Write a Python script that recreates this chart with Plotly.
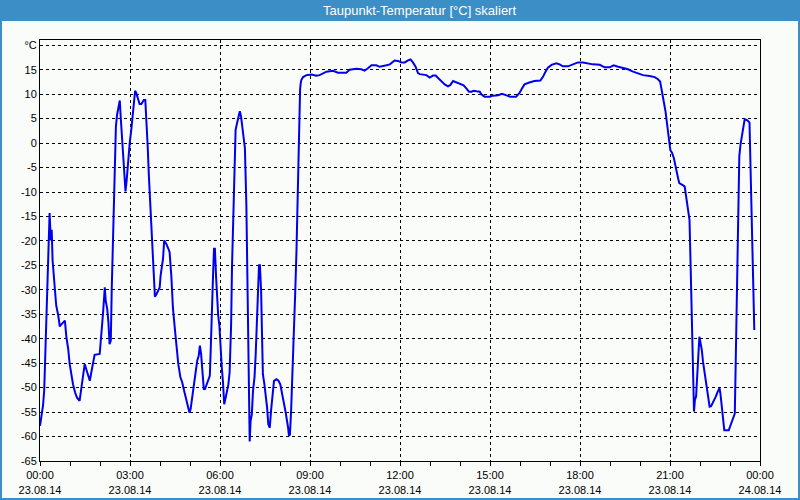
import plotly.graph_objects as go

# time in hours since 23.08.14 00:00
hours = [0.00,0.06,0.10,0.14,0.18,0.21,0.24,0.28,0.32,0.36,0.39,0.42,0.46,0.50,0.54,0.61,0.66,0.69,0.77,0.83,
0.88,0.94,0.99,1.04,1.10,1.17,1.23,1.32,1.38,1.43,1.49,1.54,1.60,1.66,1.71,1.77,1.82,1.99,2.04,2.10,
2.16,2.19,2.24,2.28,2.32,2.36,2.39,2.42,2.45,2.48,2.50,2.53,2.57,2.62,2.66,2.69,2.72,2.77,2.81,2.85,
2.89,2.93,2.99,3.05,3.10,3.13,3.17,3.21,3.27,3.32,3.38,3.46,3.51,3.55,3.59,3.63,3.68,3.72,3.77,3.80,
3.83,3.88,3.93,3.99,4.02,4.06,4.10,4.14,4.21,4.28,4.32,4.38,4.43,4.50,4.54,4.61,4.68,4.74,4.79,4.86,
4.91,4.98,5.02,5.07,5.12,5.17,5.21,5.24,5.29,5.33,5.37,5.41,5.46,5.50,5.54,5.60,5.66,5.69,5.73,5.77,
5.80,5.83,5.87,5.90,5.94,5.98,6.01,6.06,6.10,6.14,6.19,6.23,6.28,6.32,6.37,6.40,6.43,6.47,6.49,6.52,
6.57,6.61,6.66,6.70,6.75,6.79,6.83,6.88,6.91,6.95,6.97,6.99,7.02,7.06,7.10,7.15,7.19,7.23,7.27,7.30,
7.33,7.37,7.40,7.43,7.48,7.52,7.57,7.61,7.66,7.70,7.75,7.80,7.88,7.95,8.01,8.06,8.10,8.15,8.19,8.23,
8.27,8.30,8.33,8.37,8.41,8.45,8.48,8.51,8.55,8.58,8.61,8.63,8.67,8.69,8.71,8.77,8.88,9.05,9.21,9.32,
9.43,9.55,9.77,9.93,10.10,10.21,10.32,10.55,10.71,10.82,10.93,11.05,11.21,11.32,11.55,11.66,11.82,11.93,12.05,12.16,
12.27,12.35,12.43,12.52,12.60,12.66,12.88,12.99,13.10,13.19,13.27,13.38,13.49,13.60,13.68,13.77,13.88,13.99,14.12,14.21,
14.30,14.38,14.46,14.55,14.66,14.71,14.82,14.99,15.10,15.27,15.40,15.53,15.67,15.87,15.98,16.07,16.15,16.31,16.48,16.68,
16.77,16.85,16.93,17.05,17.21,17.32,17.43,17.60,17.77,17.93,18.10,18.27,18.43,18.66,18.82,18.99,19.12,19.27,19.43,19.60,
19.77,19.93,20.10,20.32,20.49,20.59,20.67,20.71,20.76,20.80,20.85,20.89,20.93,20.97,21.01,21.07,21.13,21.18,21.22,21.27,
21.31,21.38,21.45,21.49,21.53,21.58,21.61,21.65,21.68,21.71,21.73,21.77,21.80,21.83,21.87,21.90,21.93,21.96,21.98,22.01,
22.06,22.10,22.15,22.19,22.23,22.28,22.32,22.37,22.42,22.49,22.53,22.59,22.65,22.68,22.72,22.77,22.81,22.87,22.96,23.00,
23.06,23.11,23.16,23.19,23.22,23.26,23.28,23.31,23.35,23.38,23.42,23.46,23.49,23.53,23.59,23.65,23.68,23.72,23.76,23.79,
23.81]

dewpoint = [-57.8,-55.0,-53.7,-50.6,-43.5,-36.0,-28.8,-21.6,-14.3,-19.9,-17.7,-24.0,-27.8,-31.5,-33.2,-35.3,-37.5,-37.2,-36.6,-36.3,
-39.7,-42.1,-45.2,-47.6,-49.3,-51.0,-52.0,-52.7,-50.3,-48.3,-45.2,-46.2,-47.2,-48.6,-46.9,-45.2,-43.3,-43.1,-40.0,-34.9,
-29.5,-32.2,-33.9,-36.6,-41.1,-40.4,-30.2,-22.0,-12.0,-4.0,1.0,3.4,5.8,7.1,8.7,5.4,2.7,-2.7,-6.5,-9.9,
-7.5,-4.1,0.0,3.1,5.8,8.5,10.7,10.2,9.2,8.0,8.0,8.8,8.8,4.8,-0.7,-6.8,-12.9,-17.7,-25.0,-28.8,
-31.4,-30.9,-30.2,-29.5,-27.1,-25.4,-23.7,-19.9,-20.6,-21.6,-22.3,-27.4,-33.6,-38.3,-41.4,-45.2,-47.9,-48.9,-50.3,-52.0,
-53.7,-55.1,-54.4,-52.3,-50.0,-48.3,-46.5,-44.5,-43.5,-41.4,-43.1,-47.2,-50.3,-50.3,-49.6,-48.9,-47.6,-42.4,-32.2,-26.7,
-21.6,-21.6,-27.4,-32.2,-35.3,-37.3,-41.1,-45.9,-48.9,-53.4,-52.0,-51.0,-49.3,-46.9,-37.3,-25.4,-17.9,-9.7,0.7,2.7,
4.1,5.5,6.5,5.5,3.4,1.4,-1.0,-13.0,-24.7,-37.0,-49.3,-61.0,-56.8,-55.5,-50.7,-47.9,-43.2,-37.0,-30.1,-25.0,
-25.0,-30.1,-39.0,-47.3,-49.3,-51.4,-54.1,-57.5,-58.2,-54.8,-52.1,-48.6,-48.3,-48.6,-49.3,-50.7,-52.4,-53.8,-55.1,-56.5,
-58.2,-59.9,-59.6,-54.8,-48.6,-42.5,-36.3,-30.1,-21.9,-13.0,-5.5,4.1,11.0,12.2,12.9,13.5,13.9,14.0,13.8,13.9,
14.3,14.6,14.8,14.4,14.4,14.4,15.0,15.2,15.1,14.8,15.3,15.9,15.9,15.6,15.9,16.1,16.9,16.8,16.5,16.5,
16.9,17.1,16.5,15.6,14.3,14.1,13.9,13.4,13.8,13.8,13.3,12.6,12.0,11.6,11.9,12.7,12.4,12.0,11.8,11.2,
10.5,10.5,10.7,10.6,10.5,10.0,9.5,9.5,9.7,9.8,10.1,9.8,9.5,9.5,10.2,11.2,12.0,12.4,12.7,12.8,
13.6,14.6,15.4,16.0,16.3,16.1,15.7,15.7,16.1,16.5,16.5,16.3,16.1,16.0,15.5,15.5,15.9,15.6,15.3,15.1,
14.6,14.3,13.9,13.7,13.5,13.1,12.6,11.3,9.9,8.2,6.5,4.4,2.0,-0.3,-1.4,-2.0,-3.1,-4.6,-6.1,-7.2,
-8.2,-8.4,-8.7,-8.9,-10.9,-12.6,-14.3,-15.7,-23.2,-31.4,-38.9,-47.1,-54.9,-52.5,-51.8,-48.4,-45.7,-43.0,-39.6,-40.6,
-42.3,-44.7,-46.7,-48.8,-50.8,-52.5,-53.9,-53.8,-53.2,-52.5,-51.8,-50.8,-50.1,-51.2,-53.2,-55.9,-58.7,-58.7,-58.7,-58.0,
-57.0,-56.3,-55.3,-45.0,-34.8,-23.9,-13.3,-2.7,-0.3,0.7,2.4,3.8,4.9,4.8,4.6,4.2,-4.1,-13.0,-21.8,-29.7,
-38.2]

x_tick_vals = [0, 3, 6, 9, 12, 15, 18, 21, 24]
x_tick_text = ["00:00<br>23.08.14", "03:00<br>23.08.14", "06:00<br>23.08.14", "09:00<br>23.08.14",
               "12:00<br>23.08.14", "15:00<br>23.08.14", "18:00<br>23.08.14", "21:00<br>23.08.14",
               "00:00<br>24.08.14"]
y_tick_vals = list(range(-65, 21, 5))
y_tick_text = [str(v) for v in y_tick_vals[:-1]] + ["°C"]

title_text = "Taupunkt-Temperatur [°C] skaliert"

BLUE = "#3c8fc6"
BG = "#fafcfa"
FONT = "Liberation Sans, Arial, sans-serif"

fig = go.Figure()
fig.add_trace(go.Scatter(x=hours, y=dewpoint, mode="lines",
                         line=dict(color="#0000ee", width=2), hoverinfo="skip"))

W, H = 800, 500
L, R, T, B = 40, 40, 40, 39
pw, ph = W - L - R, H - T - B

def px(x):
    return (x - L) / pw

def py(y):
    return (H - B - y) / ph

fig.update_layout(
    width=W, height=H,
    margin=dict(l=L, r=R, t=T, b=B, autoexpand=False),
    paper_bgcolor=BG, plot_bgcolor=BG,
    showlegend=False,
    font=dict(family=FONT, size=11, color="black"),
    xaxis=dict(range=[0, 24], tickmode="array", tickvals=x_tick_vals, ticktext=x_tick_text,
               automargin=False,
               showgrid=True, gridcolor="black", gridwidth=1, griddash="3px,3px",
               showline=True, linecolor="black", linewidth=1, mirror=True,
               ticks="outside", ticklen=4, tickcolor="black", zeroline=False,
               minor=dict(tickmode="linear", tick0=0, dtick=1, ticks="outside",
                          ticklen=4, tickcolor="black", showgrid=False),
               tickfont=dict(family=FONT, size=11, color="black")),
    yaxis=dict(range=[-65, 21.08], tickmode="array", tickvals=y_tick_vals, ticktext=y_tick_text,
               automargin=False,
               showgrid=True, gridcolor="black", gridwidth=1, griddash="3px,3px",
               showline=True, linecolor="black", linewidth=1, mirror=True,
               ticks="", zeroline=False,
               tickfont=dict(family=FONT, size=11, color="black")),
    shapes=[
        dict(type="rect", xref="paper", yref="paper",
             x0=px(-5), x1=px(W + 5), y0=py(21), y1=py(-5),
             fillcolor=BLUE, line=dict(width=0), layer="above"),
        dict(type="rect", xref="paper", yref="paper",
             x0=px(0), x1=px(W), y0=py(H), y1=py(0),
             fillcolor="rgba(0,0,0,0)", line=dict(color=BLUE, width=4), layer="above"),
    ],
    annotations=[
        dict(text=title_text, xref="paper", yref="paper", x=px(419), y=py(11),
             xanchor="center", yanchor="middle", showarrow=False,
             font=dict(family=FONT, size=13, color="white")),
    ],
)

fig.write_html("out.html")
